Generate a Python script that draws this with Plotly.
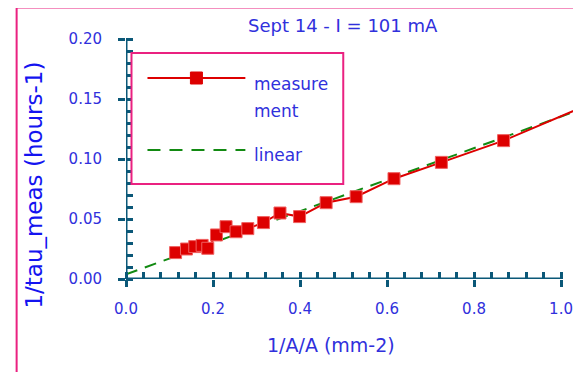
import plotly.graph_objects as go

# ---- data ----
x_meas = [0.114, 0.139, 0.158, 0.175, 0.188, 0.208, 0.230, 0.253, 0.280, 0.316,
          0.354, 0.399, 0.460, 0.529, 0.616, 0.725, 0.868, 1.10]
y_meas = [0.022, 0.025, 0.027, 0.028, 0.0256, 0.0367, 0.0436, 0.0394, 0.042, 0.047,
          0.055, 0.052, 0.0636, 0.0686, 0.0836, 0.0972, 0.1153, 0.151]
x_lin = [0.0, 1.1]
y_lin = [0.0039, 0.1485]

x_ticks = [0.0, 0.2, 0.4, 0.6, 0.8, 1.0]
y_ticks = [0.00, 0.05, 0.10, 0.15, 0.20]

title_text = "Sept 14 - I = 101 mA"
x_title = "1/A/A (mm-2)"
y_title = "1/tau_meas (hours-1)"
legend_names = ["measure", "ment", "linear"]

# ---- geometry (page pixels; page body has an 8px offset) ----
OFF = 8
W, H = 581 - OFF, 372 - OFF
PL, PR, PT, PB = 125.5, 573, 39, 279      # plot area in page pixels
ML = PL - OFF
MT = PT - OFF
MR = W - (PR - OFF)
MB = H - (PB - OFF)
PW = PR - PL
PH = PB - PT
XMAX = PW / 435.5

def px(p):
    return (p - PL) / PW

def py(p):
    return (PB - p) / PH

AXC = "#0b5878"
RED = "#dd0000"
GREEN = "#128a12"
PINK = "#ea2180"
TXT = "#3030dc"
FONT = "DejaVu Sans"

fig = go.Figure()
fig.add_trace(go.Scatter(x=x_lin, y=y_lin, mode="lines",
                         line=dict(color=GREEN, width=2, dash="12px,8px"),
                         showlegend=False))
fig.add_trace(go.Scatter(x=x_meas, y=y_meas, mode="lines+markers",
                         line=dict(color=RED, width=2),
                         marker=dict(symbol="square", size=12, color=RED,
                                     line=dict(color="#f06060", width=1)),
                         showlegend=False))
# dummy trace on overlay axes so they render
fig.add_trace(go.Scatter(x=[None], y=[None], xaxis="x2", yaxis="y2", showlegend=False))

common_x = dict(range=[0, XMAX], tickvals=x_ticks, showgrid=False, zeroline=False,
                showline=False, tickcolor=AXC, tickwidth=3, ticklen=7)
fig.update_layout(
    width=W, height=H, margin=dict(l=ML, r=MR, t=MT, b=MB, pad=0),
    paper_bgcolor="white", plot_bgcolor="white",
    font=dict(family=FONT, color=TXT),
    xaxis=dict(**common_x, ticks="outside", tickformat=".1f",
               tickfont=dict(size=15, color=TXT, family=FONT),
               ticklabelstandoff=9,
               minor=dict(dtick=0.04, tick0=0, ticks="inside", ticklen=7,
                          tickwidth=2.5, tickcolor=AXC)),
    xaxis2=dict(**common_x, ticks="inside", showticklabels=False,
                overlaying="x", anchor="y", side="bottom"),
    yaxis=dict(range=[0, 0.2], tickvals=y_ticks, tickformat=".2f", showgrid=False,
               zeroline=False, showline=False, ticks="outside", ticklen=7,
               tickwidth=3, tickcolor=AXC,
               tickfont=dict(size=15, color=TXT, family=FONT),
               ticklabelstandoff=13,
               minor=dict(dtick=0.01, tick0=0, ticks="inside", ticklen=7,
                          tickwidth=2.5, tickcolor=AXC)),
    yaxis2=dict(range=[0, 0.2], tickvals=y_ticks, showgrid=False, zeroline=False,
                showline=False, ticks="inside", ticklen=7, tickwidth=3,
                tickcolor=AXC, showticklabels=False, overlaying="y",
                anchor="x", side="left"),
)

shapes = [
    # axis lines
    dict(type="line", xref="x", yref="y", x0=0, x1=1.0, y0=0, y1=0,
         line=dict(color=AXC, width=3), layer="above"),
    dict(type="line", xref="x", yref="y", x0=0, x1=0, y0=0, y1=0.2,
         line=dict(color=AXC, width=3), layer="above"),
    # outer frame
    dict(type="rect", xref="paper", yref="paper", x0=px(16), x1=px(700),
         y0=py(500), y1=py(7.5), line=dict(color=PINK, width=2)),
    # legend box
    dict(type="rect", xref="paper", yref="paper", x0=px(131), x1=px(343),
         y0=py(184), y1=py(53), line=dict(color=PINK, width=2),
         fillcolor="white", layer="above"),
    dict(type="line", xref="paper", yref="paper", x0=px(147), x1=px(245),
         y0=py(78), y1=py(78), line=dict(color=RED, width=2), layer="above"),
    dict(type="rect", xref="paper", yref="paper", x0=px(190), x1=px(202),
         y0=py(84), y1=py(72), line=dict(color=RED, width=1), fillcolor=RED,
         layer="above"),
    dict(type="line", xref="paper", yref="paper", x0=px(147), x1=px(245),
         y0=py(150), y1=py(150), line=dict(color=GREEN, width=2, dash="13px,9px"),
         layer="above"),
]
fig.update_layout(shapes=shapes)

ann = [
    dict(text=title_text, x=px(342.5), y=py(26), xref="paper", yref="paper",
         showarrow=False, xanchor="center", yanchor="middle",
         font=dict(size=18, color=TXT, family=FONT)),
    dict(text=x_title, x=px(331), y=py(345), xref="paper", yref="paper",
         showarrow=False, xanchor="center", yanchor="middle",
         font=dict(size=19, color=TXT, family=FONT)),
    dict(text=y_title, x=px(33), y=py(185), xref="paper", yref="paper",
         showarrow=False, xanchor="center", yanchor="middle", textangle=-90,
         font=dict(size=23, color="#1414f0", family=FONT)),
    dict(text=legend_names[0], x=px(252), y=py(84), xref="paper", yref="paper",
         showarrow=False, xanchor="left", yanchor="middle",
         font=dict(size=17, color=TXT, family=FONT)),
    dict(text=legend_names[1], x=px(252), y=py(111), xref="paper", yref="paper",
         showarrow=False, xanchor="left", yanchor="middle",
         font=dict(size=17, color=TXT, family=FONT)),
    dict(text=legend_names[2], x=px(252), y=py(155), xref="paper", yref="paper",
         showarrow=False, xanchor="left", yanchor="middle",
         font=dict(size=17, color=TXT, family=FONT)),
]
fig.update_layout(annotations=ann)

fig.write_html("out.html")
